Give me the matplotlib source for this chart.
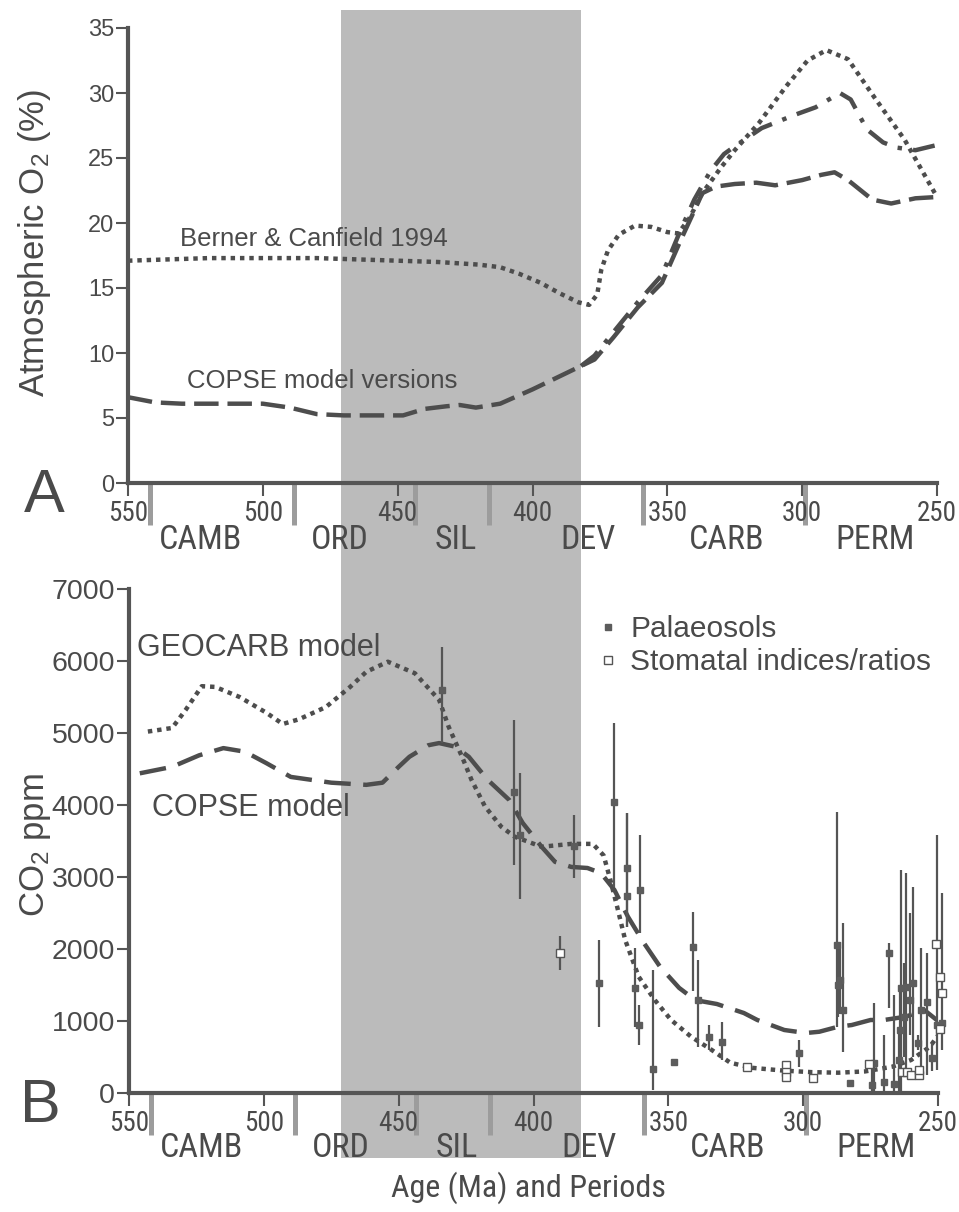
import matplotlib
matplotlib.use('Agg')
import numpy as np
import matplotlib.pyplot as plt
from matplotlib.patches import Rectangle
import matplotlib.transforms as mtransforms
import matplotlib.font_manager as fm
from matplotlib.lines import Line2D

plt.rcParams['font.family'] = ['Liberation Sans', 'DejaVu Sans']
plt.rcParams['mathtext.default'] = 'regular'

# pick a narrow sans face if one is installed, otherwise regular Liberation Sans (smaller)
_pref = ['Liberation Sans Narrow', 'Arial Narrow', 'Arimo', 'Roboto', 'Open Sans', 'Noto Sans', 'Lato', 'Inter']
_narrow = None
for pname in _pref:
    for f in fm.fontManager.ttflist:
        is_narrow = ('Narrow' in f.name or 'Condensed' in f.name or
                     f.stretch in ('condensed', 'semi-condensed'))
        if f.name.startswith(pname) and is_narrow and f.style == 'normal' and \
                f.weight in (400, 'normal', 'regular', 'book'):
            _narrow = f.fname
            break
    if _narrow:
        break
if _narrow:
    def NFP(size):
        return fm.FontProperties(fname=_narrow, size=size)
    NS = 1.0
else:
    def NFP(size):
        return fm.FontProperties(family='Liberation Sans', size=size)
    NS = 0.84

# ---------------- data ----------------
xticks = [550, 500, 450, 400, 350, 300, 250]
periods = ['CAMB', 'ORD', 'SIL', 'DEV', 'CARB', 'PERM']
period_label_x = [523, 471.5, 428.5, 379.5, 328, 273]
period_bounds = [542, 488.3, 443.7, 416, 359.2, 299]
shade_start, shade_end = 471, 382

# Panel A: atmospheric O2 (%)
a_bc_age = [550, 535, 520, 500, 480, 465, 450, 435, 420, 412, 405, 397, 390, 383, 379, 376,
            374.5, 372, 368, 362, 356, 350, 346, 342, 337, 330, 325, 316, 306, 298, 291,
            283, 273, 262, 250]
a_bc_o2 = [17.1, 17.2, 17.3, 17.3, 17.3, 17.2, 17.1, 17.0, 16.8, 16.6, 16.1, 15.4, 14.6, 13.9,
           13.7, 14.5, 16.4, 17.9, 19.1, 19.8, 19.7, 19.3, 19.2, 20.3, 22.3, 24.3, 25.6, 27.7,
           30.5, 32.5, 33.3, 32.6, 29.6, 26.4, 22.0]

a_copse_age = [550, 540, 530, 515, 500, 490, 480, 470, 455, 448, 440, 432, 427, 421, 412, 400,
               385, 377, 370, 361, 352, 345, 337, 332, 325, 317, 310, 300, 293, 288, 283, 274,
               267, 258, 250]
a_copse_o2 = [6.6, 6.2, 6.1, 6.1, 6.1, 5.8, 5.3, 5.2, 5.2, 5.2, 5.7, 5.9, 6.0, 5.8, 6.1, 7.2,
              8.7, 9.5, 11.2, 13.5, 15.4, 18.7, 22.3, 22.8, 23.0, 23.1, 22.9, 23.3, 23.7, 23.9,
              23.3, 21.8, 21.5, 21.9, 22.0]

a_v2_age = [382, 377, 370, 361, 352, 345, 340, 334, 329, 325, 315, 303, 295, 286, 282, 276,
            270, 265, 258, 250]
a_v2_o2 = [9.0, 9.8, 11.6, 13.9, 16.0, 19.5, 21.8, 24.0, 25.3, 25.9, 27.3, 28.3, 28.9, 30.0,
           29.5, 27.2, 26.2, 25.8, 25.6, 26.0]

# Panel B: CO2 ppm
b_geo_age = [543, 534, 529, 523, 518, 509, 499, 493, 487, 477, 468, 462, 454, 444, 435, 431.5,
             426.5, 423, 418, 412, 407, 397, 386, 378, 374, 371.5, 369, 366, 361, 355, 349,
             341.5, 334, 327, 319, 307, 297, 287, 277, 267, 260, 253, 250]
b_geo_co2 = [5020, 5070, 5320, 5650, 5640, 5500, 5280, 5125, 5190, 5360, 5640, 5850, 5990, 5830,
             5460, 5090, 4670, 4350, 3980, 3700, 3560, 3420, 3460, 3460, 3300, 2960, 2590, 2125,
             1615, 1290, 1015, 780, 600, 420, 350, 310, 290, 282, 300, 365, 458, 643, 800]

b_copse_age = [546, 534, 524, 515, 507, 499, 490, 475, 462, 456, 450, 446, 439, 435, 429, 424,
               417, 409, 404, 397, 392, 386, 380, 375, 370, 365, 359, 353, 346, 340, 332, 322,
               317, 307, 299, 294, 287, 282, 275, 270, 262, 255, 250]
b_copse_co2 = [4440, 4530, 4690, 4790, 4740, 4580, 4390, 4310, 4280, 4310, 4530, 4670, 4830,
               4860, 4810, 4670, 4350, 4070, 3750, 3420, 3210, 3140, 3125, 3055, 2820, 2450,
               2080, 1750, 1460, 1290, 1236, 1111, 1014, 875, 833, 851, 921, 944, 1014, 1014,
               1060, 1150, 1000]

pal_age = [434, 407.4, 405, 385, 375.6, 370, 365.5, 365.5, 360.5, 362.4, 360.7, 355.6, 347.8,
           340.7, 338.9, 335, 330, 301.6, 282.7, 287.5, 287.0, 286.3, 285.4, 273.7, 274.5, 270,
           268.2, 266.5, 263.9, 261.8, 259.3, 260.5, 262.7, 264, 264.5, 257.4, 256.2, 254,
           252.2, 250.2, 248.5]
pal_co2 = [5600, 4185, 3580, 3430, 1530, 4040, 3120, 2730, 2820, 1460, 944, 333, 435,
           2030, 1290, 782, 713, 560, 143, 2060, 1500, 1570, 1150, 420, 110, 157,
           1950, 125, 1454, 1476, 1523, 1292, 1060, 875, 458, 690, 1153, 1268,
           482, 950, 972]
pal_lo = [4860, 3170, 2700, 2990, 920, 2865, 2310, 2310, 2220, 920, 667, 40, 435,
          1410, 640, 600, 460, 365, 143, 920, 1050, 1100, 575, 0, 0, 0,
          1180, 0, 0, 300, 500, 800, 500, 300, 0, 600, 319, 250,
          300, 320, 600]
pal_hi = [6200, 5180, 4440, 3860, 2125, 5140, 3890, 3890, 3580, 2015, 1222, 1710, 435,
          2520, 1850, 944, 990, 736, 143, 3900, 2100, 2100, 2360, 1250, 420, 805,
          2080, 1360, 3100, 3055, 2865, 2500, 1800, 1500, 900, 800, 2014, 1944,
          700, 3580, 2780]

sto_age = [390, 321, 306.5, 306.5, 306.5, 296.5, 275.7, 263.2, 261.6, 260, 257.2, 257.2,
           250.9, 249.4, 248.5, 249.4]
sto_co2 = [1950, 358, 389, 296, 226, 215, 399, 296, 292, 250, 250, 319, 2065, 1606, 1393, 884]
sto_lo = [1710, 358, 389, 296, 226, 215, 399, 296, 292, 250, 250, 319, 2065, 1606, 1393, 884]
sto_hi = [2180, 358, 389, 296, 226, 215, 399, 296, 292, 250, 250, 319, 2065, 1606, 1393, 884]

# ---------------- style ----------------
TXT = '#4a4a4a'
AX = '#555555'
LINE = '#4d4d4d'
SHADE = '#bbbbbb'
MARK = '#9c9c9c'
PAL = '#5c5c5c'

W, H = 959, 1212
fig = plt.figure(figsize=(W / 100, H / 100), dpi=100)
axA = fig.add_axes([128 / W, 1 - 483 / H, (937 - 128) / W, (483 - 28) / H])
axB = fig.add_axes([129 / W, 1 - 1093 / H, (938 - 129) / W, (1093 - 589) / H])


def style(ax, ylim, yticks, ysize):
    ax.set_facecolor('none')
    for s in ['top', 'right']:
        ax.spines[s].set_visible(False)
    for s in ['left', 'bottom']:
        ax.spines[s].set_linewidth(3)
        ax.spines[s].set_color(AX)
    ax.set_xlim(550, 250)
    ax.set_ylim(*ylim)
    ax.set_yticks(yticks)
    ax.set_xticks(xticks, labels=[str(t) for t in xticks])
    for lab in ax.get_xticklabels():
        lab.set_fontproperties(NFP(19.5 * NS))
    ax.tick_params(axis='both', direction='out', length=9, width=1.5, color=AX, labelcolor=TXT)
    ax.tick_params(axis='y', labelsize=ysize, pad=1)
    ax.tick_params(axis='x', pad=3)
    tr = mtransforms.blended_transform_factory(ax.transData, ax.transAxes)
    return tr


trA = style(axA, (0, 35), list(range(0, 36, 5)), 17)
trB = style(axB, (0, 7000), list(range(0, 7001, 1000)), 20.5)

# shaded interval across both panels
shade_tr = mtransforms.blended_transform_factory(axA.transData, fig.transFigure)
fig.patches.append(Rectangle((shade_start, 1 - 1158 / H), shade_end - shade_start,
                             (1158 - 10) / H, transform=shade_tr, facecolor=SHADE,
                             edgecolor='none', zorder=-1))

# period boundary marks and labels
for ax, tr, depth, ly in [(axA, trA, 42 / 455, -0.126), (axB, trB, 42 / 504, -0.110)]:
    ax.vlines(period_bounds, -depth, 0, transform=tr, colors=MARK, linewidth=3.6,
              clip_on=False, zorder=1)
    for name, px in zip(periods, period_label_x):
        ax.text(px, ly, name, transform=tr, ha='center', va='center',
                fontproperties=NFP(24.5 * NS), color=TXT)

# Panel A lines
lw = 3.2
axA.plot(a_bc_age, a_bc_o2, color=LINE, lw=lw, dashes=(1, 1.1), dash_capstyle='butt')
axA.plot(a_copse_age, a_copse_o2, color=LINE, lw=lw, dashes=(5.5, 2))
axA.plot(a_v2_age, a_v2_o2, color=LINE, lw=lw, dashes=(5, 2.5, 1, 2.5))
axA.text(530.7, 18.8, 'Berner & Canfield 1994', fontsize=18.5, color=TXT, ha='left', va='center')
axA.text(528, 7.85, 'COPSE model versions', fontsize=18.5, color=TXT, ha='left', va='center')
axA.set_ylabel('Atmospheric O$_2$ (%)', fontsize=25, color=TXT)
axA.yaxis.set_label_coords(-0.093, 0.527)

# Panel B
axB.plot(b_geo_age, b_geo_co2, color=LINE, lw=lw, dashes=(1, 1.1), dash_capstyle='butt')
axB.plot(b_copse_age, b_copse_co2, color=LINE, lw=lw, dashes=(6, 2.8))
pal_age_a = np.array(pal_age); pal_co2_a = np.array(pal_co2)
axB.errorbar(pal_age_a, pal_co2_a,
             yerr=[pal_co2_a - np.array(pal_lo), np.array(pal_hi) - pal_co2_a],
             fmt='none', ecolor='#555555', elinewidth=1.6, capsize=0, clip_on=False, zorder=3)
sto_age_a = np.array(sto_age); sto_co2_a = np.array(sto_co2)
axB.errorbar(sto_age_a, sto_co2_a,
             yerr=[sto_co2_a - np.array(sto_lo), np.array(sto_hi) - sto_co2_a],
             fmt='none', ecolor='#555555', elinewidth=1.6, capsize=0, clip_on=False, zorder=3)
axB.plot(pal_age, pal_co2, ls='none', marker='s', ms=5, mfc=PAL, mec=PAL, clip_on=False, zorder=4)
axB.plot(sto_age, sto_co2, ls='none', marker='s', ms=6, mfc='white', mec='#555555', mew=1,
         clip_on=False, zorder=5)
axB.text(547, 6180, 'GEOCARB model', fontsize=22, color=TXT, ha='left', va='center')
axB.text(541.5, 3958, 'COPSE model', fontsize=22, color=TXT, ha='left', va='center')
axB.set_ylabel('CO$_2$ ppm', fontsize=25, color=TXT)
axB.yaxis.set_label_coords(-0.094, 0.492)

h1 = Line2D([], [], ls='none', marker='s', ms=5, mfc=PAL, mec=PAL)
h2 = Line2D([], [], ls='none', marker='s', ms=5.5, mfc='white', mec='#555555', mew=1)
axB.legend([h1, h2], ['Palaeosols', 'Stomatal indices/ratios'], loc='upper left',
           bbox_to_anchor=(596 / W, 1 - 615 / H), bbox_transform=fig.transFigure,
           frameon=False, fontsize=21.5, handlelength=0.8, handletextpad=0.35,
           labelspacing=0.17, borderpad=0, borderaxespad=0, labelcolor=TXT)

fig.text(44 / W, 1 - 497 / H, 'A', fontsize=44, ha='center', va='center', color=TXT)
fig.text(40 / W, 1 - 1106 / H, 'B', fontsize=44, ha='center', va='center', color=TXT)
fig.text(528 / W, 1 - 1188 / H, 'Age (Ma) and Periods', ha='center', va='center',
         fontproperties=NFP(23 * NS), color=TXT)

fig.savefig('out.png', dpi=100, facecolor='white')
